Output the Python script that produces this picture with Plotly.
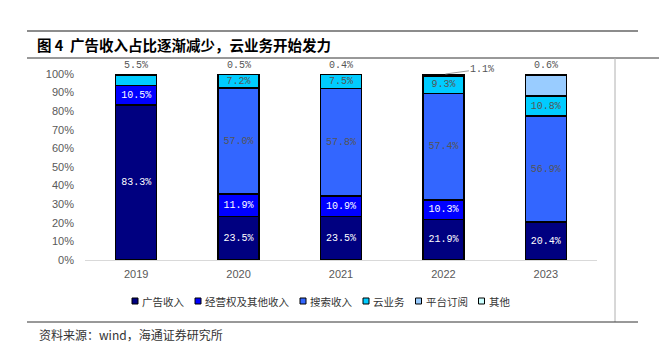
import plotly.graph_objects as go

years = ["2019", "2020", "2021", "2022", "2023"]
series_names = ["广告收入", "经营权及其他收入", "搜索收入", "云业务", "平台订阅", "其他"]
ad = [83.3, 23.5, 23.5, 21.9, 20.4]
franchise = [10.5, 11.9, 10.9, 10.3, 0.0]
search = [0.0, 57.0, 57.8, 57.4, 56.9]
cloud = [5.5, 7.2, 7.5, 9.3, 10.8]
subscription = [0.0, 0.0, 0.0, 0.0, 11.3]
other = [0.7, 0.5, 0.4, 1.1, 0.6]
yticks = [0, 10, 20, 30, 40, 50, 60, 70, 80, 90, 100]

colors = ["#000080", "#0000FF", "#3366FF", "#00CCFF", "#99CCFF", "#CCFFFF"]
text_colors = ["white", "white", "#555555", "#555555", "#555555", "#555555"]

W, H = 659, 345
L, R, T, B = 85, 62, 74, 85
PW = W - L - R
PH = H - T - B


def px(x):
    return (x - L) / PW


def py(y):
    return (H - B - y) / PH


data = [ad, franchise, search, cloud, subscription, other]
fig = go.Figure()
for k, (name, vals) in enumerate(zip(series_names, data)):
    texts = []
    for i, v in enumerate(vals):
        show = v > 0 and k in (0, 1, 2)
        if k == 3 and v >= 7:
            show = True
        texts.append(f"{v:.1f}%" if show else "")
    fig.add_trace(go.Bar(
        x=years, y=vals, name=name,
        marker=dict(color=colors[k], line=dict(color="#000000", width=1.5)),
        text=texts, textposition="inside", insidetextanchor="middle",
        textangle=0,
        textfont=dict(family="Liberation Mono", size=10, color=text_colors[k]),
        showlegend=False, hoverinfo="skip",
    ))

fig.update_layout(
    barmode="stack", bargap=0.6,
    width=W, height=H,
    margin=dict(l=L, r=R, t=T, b=B),
    plot_bgcolor="white", paper_bgcolor="white",
    uniformtext=dict(minsize=9, mode="show"),
    xaxis=dict(type="category", range=[-0.5, len(years) - 0.5],
               showline=True, linecolor="#d9d9d9", linewidth=1, ticks="",
               ticklabelstandoff=4,
               tickfont=dict(family="Liberation Sans", size=11, color="#595959")),
    yaxis=dict(range=[0, 100], tickvals=yticks, ticktext=[f"{v}%" for v in yticks],
               showgrid=False, zeroline=False, showline=False, ticks="",
               ticklabelstandoff=10,
               tickfont=dict(family="Liberation Sans", size=11, color="#595959")),
)

anns = []
# labels above bars
for i, yr in enumerate(years):
    top_val = cloud[i] if i == 0 else other[i]
    lab = f"{top_val:.1f}%"
    if i == 3:
        anns.append(dict(x=i, y=100, xref="x", yref="y", text=lab,
                         showarrow=True, arrowhead=0, arrowwidth=1, arrowcolor="#999999",
                         ax=37, ay=-5, xshift=2,
                         font=dict(family="Liberation Mono", size=10, color="#555555")))
    else:
        anns.append(dict(x=i, y=100, xref="x", yref="y", text=lab, showarrow=False,
                         yanchor="bottom", yshift=1,
                         font=dict(family="Liberation Mono", size=10, color="#555555")))

# title and source
anns.append(dict(x=px(35), y=py(45), xref="paper", yref="paper", xanchor="left", yanchor="middle",
                 text="<b>图 4  广告收入占比逐渐减少，云业务开始发力</b>", showarrow=False,
                 font=dict(family="Noto Sans CJK SC", size=14.5, color="#000000")))
anns.append(dict(x=px(37), y=py(334), xref="paper", yref="paper", xanchor="left", yanchor="middle",
                 text="资料来源：wind，海通证券研究所", showarrow=False,
                 font=dict(family="Noto Sans CJK SC", size=12, color="#333333")))

shapes = [
    dict(type="line", xref="paper", yref="paper", x0=px(27), x1=px(638), y0=py(31), y1=py(31),
         line=dict(color="#8c8c8c", width=2)),
    dict(type="line", xref="paper", yref="paper", x0=px(27), x1=px(659), y0=py(58), y1=py(58),
         line=dict(color="#333333", width=1)),
    dict(type="line", xref="paper", yref="paper", x0=px(615), x1=px(615), y0=py(58), y1=py(322),
         line=dict(color="#b0b0b0", width=1)),
    dict(type="line", xref="paper", yref="paper", x0=px(27), x1=px(638), y0=py(322), y1=py(322),
         line=dict(color="#333333", width=1)),
]

# custom legend
lx = 132
fs = 10.5
for k, name in enumerate(series_names):
    shapes.append(dict(type="rect", xref="paper", yref="paper",
                       x0=px(lx), x1=px(lx + 6), y0=py(298), y1=py(304),
                       fillcolor=colors[k], line=dict(color="#000000", width=1)))
    anns.append(dict(x=px(lx + 8), y=py(301), xref="paper", yref="paper",
                     xanchor="left", yanchor="middle", text=name, showarrow=False,
                     font=dict(family="Noto Sans CJK SC", size=fs, color="#333333")))
    lx += 8 + fs * len(name) + 13

fig.update_layout(annotations=anns, shapes=shapes)
fig.write_html("out.html")
